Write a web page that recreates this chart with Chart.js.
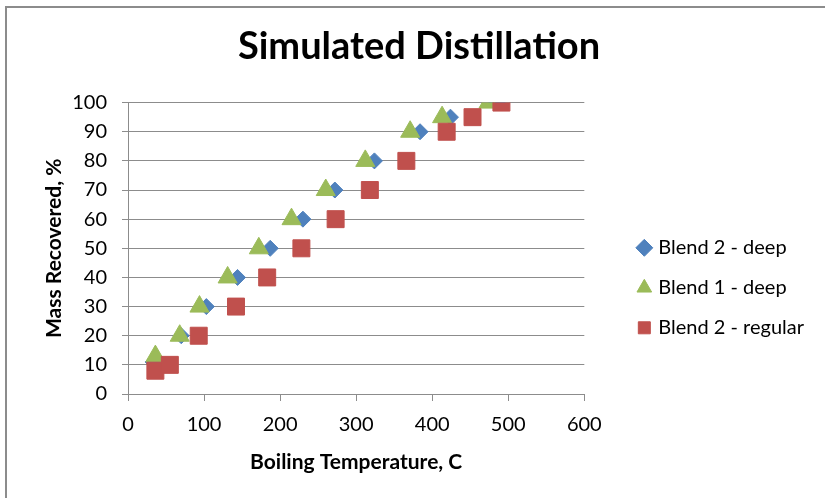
<!DOCTYPE html>
<html>
<head>
<meta charset="utf-8">
<script src="https://cdn.jsdelivr.net/npm/chart.js@4/dist/chart.umd.min.js"></script>
<style>
  body { margin: 0; background: #fff; }
  #wrap { position: relative; width: 825px; height: 498px; overflow: hidden; }
  #frame { position: absolute; left: 5px; top: 6px; width: 900px; height: 600px; border: 2px solid #8c8c8c; pointer-events: none; }
</style>
</head>
<body>
<div id="wrap">
  <canvas id="distChart" width="825" height="498"></canvas>
  <div id="frame"></div>
</div>
<script>
        // DATA (boiling temperature in C, mass recovered in %)
        let blend2DeepTemp = [33, 70, 103, 144, 187, 230, 272, 324, 384, 424, 485];
        let blend2DeepPct  = [11, 20, 30, 40, 50, 60, 70, 80, 90, 95, 100];
        let blend1DeepTemp = [36, 68, 94, 131, 172, 215, 260, 312, 371, 413, 474];
        let blend1DeepPct  = [13, 20, 30, 40, 50, 60, 70, 80, 90, 95, 100];
        let blend2RegTemp  = [36, 55, 93, 142, 183, 228, 273, 318, 366, 419, 453, 491];
        let blend2RegPct   = [8, 10, 20, 30, 40, 50, 60, 70, 80, 90, 95, 100];

        let seriesLabels = ['Blend 2 - deep', 'Blend 1 - deep', 'Blend 2 - regular'];
        let seriesColors = ['#4F81BD', '#9BBB59', '#C0504D'];
        let seriesShapes = ['rectRot', 'triangle', 'rect'];
        let seriesRadius = [8, 11, 12];
        let seriesOrder = [3, 2, 1]; // regular blend sits on top of the deep ones

        function toPoints(xs, ys) {
            let pts = [];
            for (let i = 0; i < xs.length; i++) {
                pts.push({ x: xs[i], y: ys[i] });
            }
            return pts;
        }
        let seriesData = [
            toPoints(blend2DeepTemp, blend2DeepPct),
            toPoints(blend1DeepTemp, blend1DeepPct),
            toPoints(blend2RegTemp, blend2RegPct)
        ];

        let datasets = [];
        for (let i = 0; i < seriesLabels.length; i++) {
            datasets.push({
                label: seriesLabels[i],
                data: seriesData[i],
                backgroundColor: seriesColors[i],
                borderColor: seriesColors[i],
                borderWidth: 1,
                pointStyle: seriesShapes[i],
                pointRadius: seriesRadius[i],
                pointHoverRadius: seriesRadius[i],
                order: seriesOrder[i]
            });
        }

        let font = 'Lato';
        let gridGray = '#8c8c8c';

        let ctx = document.getElementById('distChart').getContext('2d');
        let distChart = new Chart(ctx, {
            type: 'scatter',
            data: { datasets: datasets },
            options: {
                responsive: false,
                animation: false,
                layout: { padding: { left: 24, right: 11, top: 0, bottom: 0 } },
                plugins: {
                    title: {
                        display: true,
                        text: 'Simulated Distillation',
                        color: '#000',
                        font: { family: font, size: 38, weight: 'bold' },
                        padding: { top: 24, bottom: 33 }
                    },
                    legend: {
                        position: 'right',
                        maxWidth: 260,
                        title: { display: true, text: ' ', font: { family: font, size: 18 }, padding: { top: 56, bottom: 0 } },
                        labels: {
                            usePointStyle: true,
                            boxWidth: 8,
                            boxHeight: 12,
                            padding: 20,
                            color: '#000',
                            font: { family: font, size: 20 },
                            sort: function (a, b) { return a.datasetIndex - b.datasetIndex; }
                        }
                    },
                    tooltip: { enabled: false }
                },
                scales: {
                    x: {
                        type: 'linear',
                        min: 0,
                        max: 600,
                        ticks: { stepSize: 100, color: '#000', padding: 12, font: { family: font, size: 20 } },
                        grid: { drawOnChartArea: false, drawTicks: true, tickLength: 7, color: gridGray },
                        border: { color: gridGray },
                        title: {
                            display: true,
                            text: 'Boiling Temperature, C',
                            color: '#000',
                            font: { family: font, size: 21, weight: 'bold' },
                            padding: { top: 0, bottom: 23 }
                        },
                        afterFit: function (scale) { scale.height = 104; }
                    },
                    y: {
                        min: 0,
                        max: 100,
                        ticks: { stepSize: 10, color: '#000', padding: 15, font: { family: font, size: 20 } },
                        grid: { color: gridGray, tickLength: 6 },
                        border: { color: gridGray },
                        title: {
                            display: true,
                            text: 'Mass Recovered, %',
                            color: '#000',
                            font: { family: font, size: 21, weight: 'bold' },
                            padding: { top: 18, bottom: 0 }
                        },
                        afterFit: function (scale) { scale.width = 104; }
                    },
                    // empty strip between the plot and the legend
                    gap: {
                        type: 'linear',
                        position: 'right',
                        display: true,
                        grid: { display: false },
                        border: { display: false },
                        ticks: { display: false },
                        afterFit: function (scale) { scale.width = 36; }
                    }
                }
            }
        });
</script>
</body>
</html>
